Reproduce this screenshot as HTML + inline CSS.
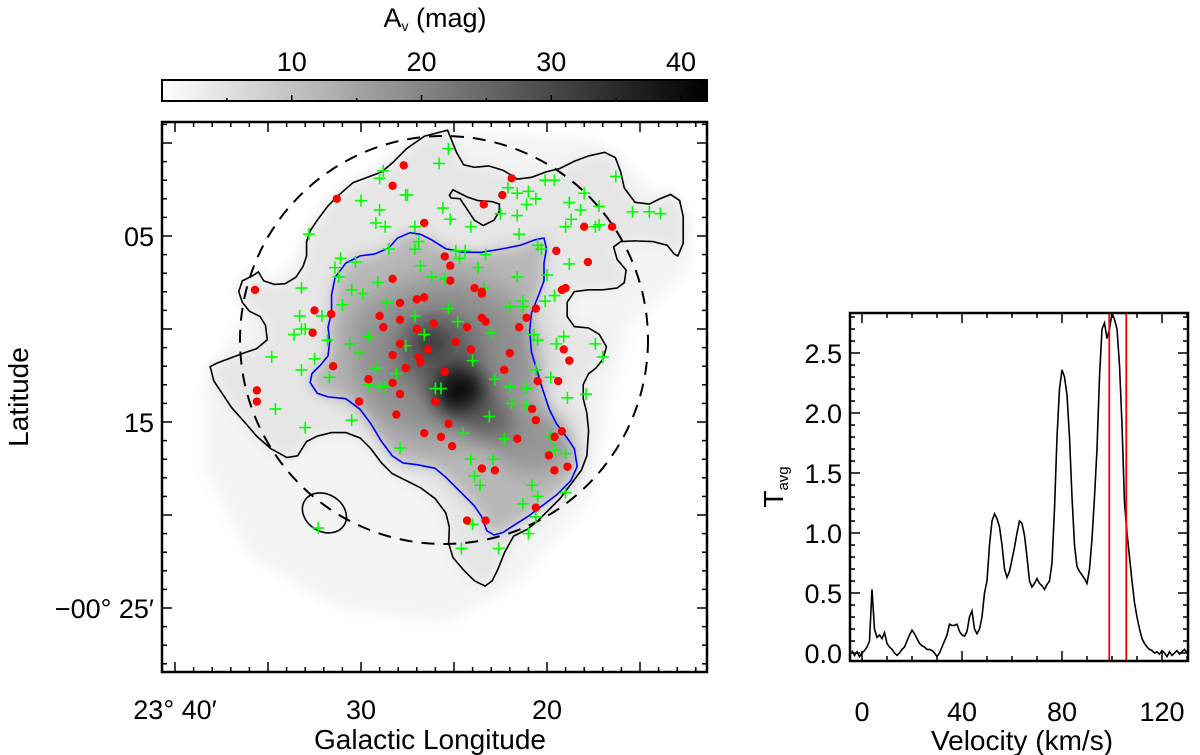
<!DOCTYPE html>
<html><head><meta charset="utf-8"><style>
html,body{margin:0;padding:0;background:#fff;}
svg{display:block;font-family:"Liberation Sans",sans-serif;}
</style></head><body>
<svg id="fig" width="1200" height="755" viewBox="0 0 1200 755" xmlns="http://www.w3.org/2000/svg">
<defs>
<linearGradient id="cbar" x1="0" x2="1" y1="0" y2="0"><stop offset="0" stop-color="#ffffff"/><stop offset="1" stop-color="#000000"/></linearGradient>
<filter id="b1" x="-50%" y="-50%" width="200%" height="200%"><feGaussianBlur stdDeviation="20"/></filter>
<filter id="b2" x="-50%" y="-50%" width="200%" height="200%"><feGaussianBlur stdDeviation="45"/></filter>
<filter id="b3" x="-50%" y="-50%" width="200%" height="200%"><feGaussianBlur stdDeviation="30"/></filter>
<clipPath id="mapclip"><rect x="162" y="122" width="545" height="550"/></clipPath>
<clipPath id="specclip"><rect x="850" y="313" width="338" height="348"/></clipPath>
</defs>

<g>
<text x="435" y="27" font-size="27" text-anchor="middle">A<tspan font-size="14" dy="4">v</tspan><tspan dy="-4"> (mag)</tspan></text>
<rect x="162" y="80" width="545" height="21" fill="url(#cbar)" stroke="#000" stroke-width="2"/>
<g id="cbticks"></g>
</g>

<g>
<g clip-path="url(#mapclip)">
<g transform="translate(160.2,109.5) scale(0.357)">
<path d="M330,480 L500,230 650,140 800,60 1200,80 1480,300 1480,450 1320,600 1260,800 1200,1100 1000,1330 800,1440 500,1400 250,1250 120,1000 120,800 220,600 Z" fill="#f4f4f4" filter="url(#b1)"/>
<path fill="#e6e6e6" filter="url(#b1)" d="M805,58 L830,120 850,155 880,162 920,158 960,170 1000,195 1040,190 1080,175 1120,165 1160,145 1200,130 1245,120 1275,135 1290,175 1300,220 1330,260 1370,265 1400,250 1430,238 1455,255 1465,300 1465,375 1450,410 1420,380 1380,370 1330,368 1290,370 1270,385 1280,420 1305,450 1300,485 1280,500 1240,505 1200,505 1160,510 1140,540 1140,580 1160,608 1200,612 1230,630 1250,665 1240,700 1220,725 1200,740 1185,770 1185,810 1195,850 1200,900 1195,970 1180,1010 1150,1050 1120,1090 1090,1120 1060,1150 1030,1175 990,1195 965,1240 945,1290 930,1320 910,1335 880,1320 850,1290 820,1255 808,1215 810,1170 800,1130 770,1090 730,1060 690,1040 650,1020 620,990 590,950 560,920 520,905 480,905 440,915 410,930 385,970 355,975 310,950 270,915 240,880 200,835 170,790 150,760 140,720 160,710 200,695 240,680 270,670 300,645 295,605 280,580 250,565 230,540 220,510 230,480 260,465 275,455 290,480 320,490 350,488 380,470 400,440 410,410 410,370 420,340 440,310 470,270 500,240 540,205 580,190 620,175 650,150 690,110 740,75 Z"/>
<path fill="#b8b8b8" filter="url(#b1)" d="M640,388 L665,360 700,345 730,350 760,365 800,390 850,400 900,400 960,390 1010,380 1050,365 1075,360 1082,390 1075,430 1075,480 1060,520 1040,570 1035,620 1040,680 1055,730 1070,780 1090,840 1110,880 1140,920 1160,950 1168,1000 1150,1040 1110,1080 1070,1110 1030,1140 990,1165 960,1185 935,1192 915,1180 900,1140 880,1110 850,1080 830,1060 800,1030 770,1005 720,995 680,990 650,970 620,930 590,880 560,840 520,810 470,805 440,795 420,765 425,740 450,715 470,690 475,650 470,610 480,570 480,520 490,470 520,430 560,410 600,405 Z"/>
<ellipse cx="800" cy="700" rx="260" ry="230" fill="#707070" opacity="0.6" filter="url(#b2)"/>
<ellipse cx="1040" cy="930" rx="110" ry="90" fill="#808080" opacity="0.6" filter="url(#b3)"/>
<ellipse cx="620" cy="610" rx="90" ry="80" fill="#909090" opacity="0.5" filter="url(#b3)"/>
<ellipse cx="780" cy="680" rx="120" ry="110" fill="#505050" opacity="0.6" filter="url(#b3)"/>
<ellipse cx="840" cy="790" rx="75" ry="70" fill="#000000" opacity="0.9" filter="url(#b3)"/>
<ellipse cx="760" cy="655" rx="50" ry="45" fill="#202020" opacity="0.7" filter="url(#b3)"/>
<ellipse cx="920" cy="870" rx="70" ry="60" fill="#404040" opacity="0.6" filter="url(#b3)"/>
</g>
<g transform="translate(160.2,109.5) scale(0.357)" fill="none">
<path stroke="#000" stroke-width="4.5" d="M805,58 L830,120 850,155 880,162 920,158 960,170 1000,195 1040,190 1080,175 1120,165 1160,145 1200,130 1245,120 1275,135 1290,175 1300,220 1330,260 1370,265 1400,250 1430,238 1455,255 1465,300 1465,375 1450,410 1440,405 1420,380 1380,370 1330,368 1290,370 1270,385 1280,420 1305,450 1300,485 1280,500 1240,505 1200,505 1160,510 1140,540 1140,580 1160,608 1200,612 1230,630 1250,665 1240,700 1220,725 1200,740 1185,770 1185,810 1195,850 1200,900 1195,970 1180,1010 1150,1050 1120,1090 1090,1120 1060,1150 1030,1175 990,1195 965,1240 945,1290 930,1320 910,1335 880,1320 850,1290 820,1255 808,1215 810,1170 800,1130 770,1090 730,1060 690,1040 650,1020 620,990 590,950 560,920 520,905 480,905 440,915 410,930 385,970 355,975 310,950 270,915 240,880 200,835 170,790 150,760 140,720 160,710 200,695 240,680 270,670 300,645 295,605 280,580 250,565 230,540 220,510 230,480 260,465 275,455 290,480 320,490 350,488 380,470 400,440 410,410 410,370 420,340 440,310 470,270 500,240 540,205 580,190 620,175 650,150 690,110 740,75 Z"/>
<path stroke="#000" stroke-width="4.5" d="M810,240 L820,225 840,235 860,245 890,255 930,258 950,265 950,285 935,310 905,325 880,310 860,280 840,250 815,248 Z"/>
<ellipse cx="460" cy="1130" rx="65" ry="52" transform="rotate(32 460 1130)" stroke="#000" stroke-width="4.5"/>
<path stroke="#0000ff" stroke-width="4.5" d="M640,388 L665,360 700,345 730,350 760,365 800,390 850,400 900,400 960,390 1010,380 1050,365 1075,360 1082,390 1075,430 1075,480 1060,520 1040,570 1035,620 1040,680 1055,730 1070,780 1090,840 1110,880 1140,920 1160,950 1168,1000 1150,1040 1110,1080 1070,1110 1030,1140 990,1165 960,1185 935,1192 915,1180 900,1140 880,1110 850,1080 830,1060 800,1030 770,1005 720,995 680,990 650,970 620,930 590,880 560,840 520,810 470,805 440,795 420,765 425,740 450,715 470,690 475,650 470,610 480,570 480,520 490,470 520,430 560,410 600,405 Z"/>
</g>
<circle cx="444" cy="340" r="204" fill="none" stroke="#000" stroke-width="2" stroke-dasharray="13,9"/>
<g id="points"></g>
</g>
<rect x="162" y="122" width="545" height="550" fill="none" stroke="#000" stroke-width="2.5"/>
<g id="mapticks"></g>
<text x="0" y="0" font-size="28" text-anchor="middle" transform="translate(28,397) rotate(-90)">Latitude</text>
<text x="430" y="749" font-size="28" text-anchor="middle">Galactic Longitude</text>
</g>

<g>
<g clip-path="url(#specclip)">
<path id="specline" fill="none" stroke="#000" stroke-width="1.6"/>
<g id="vlines"></g>
</g>
<rect x="850" y="313" width="338" height="348" fill="none" stroke="#000" stroke-width="2.5"/>
<g id="specticks"></g>
<text x="1022" y="750" font-size="28" text-anchor="middle">Velocity (km/s)</text>
<text transform="translate(783,487) rotate(-90)" font-size="28" text-anchor="middle">T<tspan font-size="15" dy="5">avg</tspan></text>
</g>
</svg>
<script>
const redLon=[27.7,28.3,31.3,23.4,22.4,21.9,26.6,18.0,16.5,19.5,17.8,25.5,25.2,28.3,25.2,23.9,23.5,23.5,19.2,19.0,27.0,26.6,27.9,29.0,27.9,28.8,27.0,26.1,24.3,23.5,23.3,21.1,20.6,21.5,32.5,31.6,32.6,35.7,24.9,27.9,26.4,24.1,22.0,28.3,26.9,26.8,27.6,31.5,25.5,22.3,29.6,28.3,20.5,19.4,19.1,18.8,35.6,35.6,27.9,26.0,30.1,28.1,25.3,20.8,20.6,26.6,25.7,25.1,21.6,19.6,19.2,19.9,19.6,18.9,23.5,22.8,20.6,24.3,23.3];
const redLat=[1.2,2.3,3.0,3.3,2.8,1.9,4.3,4.5,4.5,5.8,6.4,6.1,6.6,7.3,7.4,7.8,8.1,8.0,7.9,7.8,8.4,8.3,8.6,9.3,9.5,9.9,10.0,9.7,9.9,9.4,9.6,9.4,8.9,9.9,9.0,9.2,10.2,7.9,10.7,10.8,11.1,11.1,11.3,11.4,11.5,11.8,12.1,12.0,12.3,12.2,12.7,12.9,12.8,12.8,11.1,11.7,13.3,13.9,13.5,13.9,13.9,14.6,15.1,14.3,14.9,15.6,15.8,16.3,15.9,15.8,15.5,16.8,17.6,17.4,17.5,17.6,19.6,20.3,20.3];
const greenLon=[25.3,25.8,28.8,29.0,30.0,27.6,27.5,29.0,29.2,28.7,25.6,25.2,24.1,27.1,22.5,21.6,21.5,22.1,21.6,21.0,20.6,21.1,20.1,19.6,18.8,18.2,18.0,17.2,17.4,17.2,18.7,19.0,16.3,15.4,14.5,13.9,32.8,26.9,27.1,24.9,24.4,24.7,23.3,28.5,31.1,31.4,31.2,30.3,26.8,26.2,25.5,23.7,21.6,20.0,18.8,20.5,20.3,33.2,30.5,29.9,29.1,28.6,31.0,23.4,21.3,21.3,22.0,20.1,19.6,25.3,27.1,24.8,23.0,33.3,33.2,32.1,33.6,33.0,31.8,30.6,30.1,29.6,27.6,26.6,20.7,20.5,19.1,19.5,17.4,17.0,34.8,32.5,33.2,31.7,29.2,28.1,24.0,22.8,22.0,21.1,20.6,19.8,18.9,17.9,29.6,29.0,28.7,26.0,25.7,21.9,21.1,23.1,34.6,30.5,33.0,24.5,22.3,19.8,19.6,19.0,27.9,24.1,22.9,23.9,23.6,20.8,20.5,21.3,19.0,20.6,24.0,21.0,32.3,24.6,22.6];
const greenLat=[0.3,1.1,1.5,1.9,3.1,2.8,2.8,3.6,4.3,4.5,3.5,4.1,4.5,4.5,3.8,3.9,4.9,2.4,2.7,2.6,3.0,3.3,2.0,2.0,3.2,3.6,2.7,3.4,4.5,4.4,4.1,4.5,1.8,3.7,3.7,3.8,4.9,5.3,5.7,5.8,5.8,6.2,6.0,5.7,6.2,6.7,7.2,6.4,6.6,7.2,7.3,6.7,7.2,7.1,6.5,5.5,5.7,7.8,7.9,8.1,7.5,8.6,8.7,7.8,8.5,8.8,8.8,8.5,8.2,8.9,9.3,9.6,10.2,9.3,10.0,9.3,10.3,10.0,10.6,10.8,11.3,10.4,10.9,10.3,10.3,10.6,10.4,10.8,10.8,11.5,11.5,11.6,12.2,12.6,12.1,12.4,11.7,12.7,13.1,13.2,12.2,12.6,13.7,13.5,13.0,13.1,13.1,13.2,13.2,14.0,14.1,14.7,14.3,14.9,15.3,15.6,15.9,15.8,16.5,16.7,16.4,17.0,17.0,17.9,18.4,18.4,19.0,19.4,18.8,20.1,20.5,21.0,20.7,21.8,21.8];
const lonTicks=[40,30,20];
const lonTickLabels=["23° 40′","30","20"];
const latTicks=[5,15,25];
const latTickLabels=["05","15","−00° 25′"];
const cbTicks=[10,20,30,40];
const velocity=[-4,-3,-2,-1,0,1,2,3,4,5,6,7,8,9,10,11,12,13,14,15,16,17,18,19,20,21,22,23,24,25,26,27,28,29,30,31,32,33,34,35,36,37,38,39,40,41,42,43,44,45,46,47,48,49,50,51,52,53,54,55,56,57,58,59,60,61,62,63,64,65,66,67,68,69,70,71,72,73,74,75,76,77,78,79,80,81,82,83,84,85,86,87,88,89,90,91,92,93,94,95,96,97,98,99,100,101,102,103,104,105,106,107,108,109,110,111,112,113,114,115,116,117,118,119,120,121,122,123,124,125,126,127,128,129,130];
const tavg=[0.02,-0.02,0.01,-0.03,0.0,0.02,0.05,
0.1,0.53,0.2,0.13,0.15,0.12,0.17,0.08,0.05,0.03,
0.0,-0.02,0.0,0.03,0.05,0.1,0.15,0.19,0.16,0.12,
0.08,0.06,0.05,0.03,0.03,0.02,0.0,-0.03,0.0,0.05,
0.1,0.15,0.24,0.23,0.23,0.24,0.18,0.15,0.14,0.18,
0.3,0.35,0.2,0.16,0.2,0.3,0.5,0.6,0.9,1.1,
1.16,1.12,1.05,0.9,0.7,0.63,0.68,0.78,0.88,1.0,
1.1,1.08,0.98,0.8,0.6,0.55,0.58,0.62,0.58,0.56,
0.53,0.57,0.6,0.75,1.2,1.8,2.2,2.36,2.3,2.15,
1.8,1.3,0.9,0.72,0.68,0.65,0.62,0.58,0.7,0.95,
1.3,1.7,2.3,2.7,2.75,2.62,2.7,2.83,2.78,2.7,
2.4,1.9,1.25,1.0,0.8,0.6,0.42,0.3,0.2,0.12,
0.08,0.05,0.03,0.02,0.0,
0.01,-0.01,0.02,0.0,-0.03,0.01,-0.02,0.0,0.02,-0.01,0.01,0.03,0.0];
const velLines=[98.9,105.7];
const velTicks=[0,40,80,120];
const tTicks=[0,0.5,1.0,1.5,2.0,2.5];
const tTickLabels=["0.0","0.5","1.0","1.5","2.0","2.5"];

const NS="http://www.w3.org/2000/svg";
function mk(tag,attrs,parent){const e=document.createElementNS(NS,tag);for(const k in attrs)e.setAttribute(k,attrs[k]);parent.appendChild(e);return e;}
const mapX=l=>175+(40-l)*18.6;
const mapY=d=>236+(d-5)*18.6;
const cbX=v=>162+v/42*545;
const specX=v=>862+v*2.5;
const specY=t=>653-t*120;

const cbg=document.getElementById('cbticks');
for(let v=5;v<=40;v+=5){
  const x=cbX(v);
  const t1=mk('line',{x1:x,x2:x,y1:101,y2:v%10===0?95:98,stroke:'#000','stroke-width':1.5},cbg);
  
  
}
cbTicks.forEach(v=>{
  const t=mk('text',{x:cbX(v),y:71,'font-size':27,'text-anchor':'middle'},cbg);
  t.textContent=String(v);
  
  
});

const pg=document.getElementById('points');
greenLon.forEach((l,i)=>{
  const x=mapX(l),y=mapY(greenLat[i]);
  const p=mk('path',{d:`M${x-6},${y}H${x+6}M${x},${y-6}V${y+6}`,stroke:'#00ff00','stroke-width':1.6,fill:'none'},pg);
  
  
});
redLon.forEach((l,i)=>{
  const c=mk('circle',{cx:mapX(l),cy:mapY(redLat[i]),r:4.2,fill:'#ff0000'},pg);
  
  
});

const mt=document.getElementById('mapticks');
for(let l=12;l<=40;l++){
  const x=mapX(l),len=l%5===0?10:5;
  const a=mk('line',{x1:x,x2:x,y1:672,y2:672-len,stroke:'#000','stroke-width':1.5},mt);
  
  
  const b=mk('line',{x1:x,x2:x,y1:122,y2:122+len,stroke:'#000','stroke-width':1.5},mt);
  
  
}
for(let d=-1;d<=28;d++){
  const y=mapY(d),len=d%5===0?10:5;
  const a=mk('line',{x1:162,x2:162+len,y1:y,y2:y,stroke:'#000','stroke-width':1.5},mt);
  
  
  const b=mk('line',{x1:707,x2:707-len,y1:y,y2:y,stroke:'#000','stroke-width':1.5},mt);
  
  
}
lonTicks.forEach((l,i)=>{
  const t=mk('text',{x:mapX(l),y:719,'font-size':27,'text-anchor':'middle'},mt);
  t.textContent=lonTickLabels[i];
  
  
});
latTicks.forEach((d,i)=>{
  const t=mk('text',{x:154,y:mapY(d)+10,'font-size':27,'text-anchor':'end'},mt);
  t.textContent=latTickLabels[i];
  
  
});

let d='';
for(let i=0;i<Math.min(velocity.length,tavg.length);i++){d+=(i?'L':'M')+specX(velocity[i]).toFixed(1)+','+specY(tavg[i]).toFixed(1);}
document.getElementById('specline').setAttribute('d',d);
const vl=document.getElementById('vlines');
velLines.forEach(v=>{
  const l=mk('line',{x1:specX(v),x2:specX(v),y1:313,y2:661,stroke:'#ff0000','stroke-width':1.8},vl);
  
  
});
const st=document.getElementById('specticks');
for(let v=0;v<=130;v+=10){
  const x=specX(v),len=v%40===0?10:5;
  const a=mk('line',{x1:x,x2:x,y1:661,y2:661-len,stroke:'#000','stroke-width':1.5},st);
  
  
  const b=mk('line',{x1:x,x2:x,y1:313,y2:313+len,stroke:'#000','stroke-width':1.5},st);
  
  
}
for(let k=0;k<=28;k++){
  const t=k/10,y=specY(t),len=k%5===0?10:5;
  const a=mk('line',{x1:850,x2:850+len,y1:y,y2:y,stroke:'#000','stroke-width':1.5},st);
  
  
  const b=mk('line',{x1:1188,x2:1188-len,y1:y,y2:y,stroke:'#000','stroke-width':1.5},st);
  
  
}
velTicks.forEach(v=>{
  const t=mk('text',{x:specX(v),y:721,'font-size':27,'text-anchor':'middle'},st);
  t.textContent=String(v);
  
  
});
tTicks.forEach((v,i)=>{
  const t=mk('text',{x:842,y:specY(v)+10,'font-size':27,'text-anchor':'end'},st);
  t.textContent=tTickLabels[i];
  
  
});
</script>
</body></html>
